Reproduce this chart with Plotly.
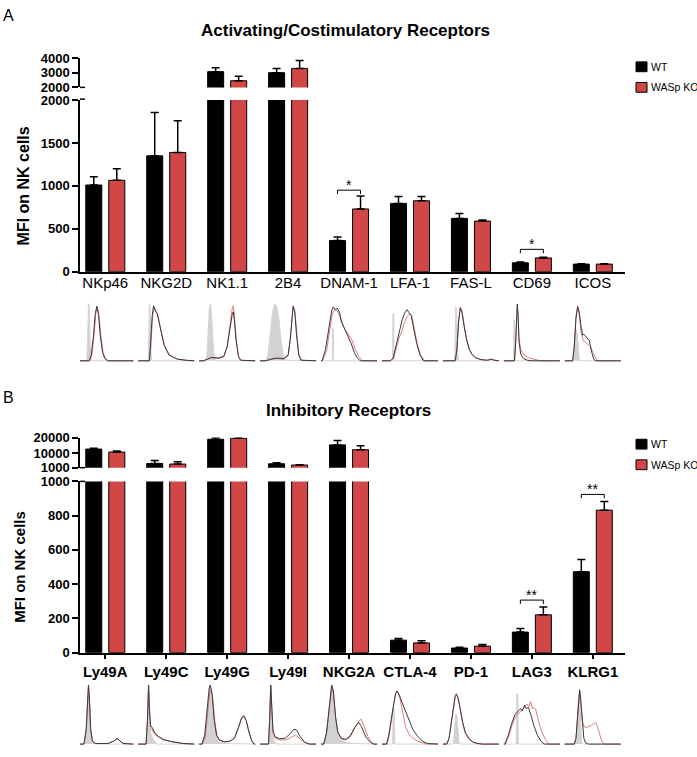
import plotly.graph_objects as go

W, H = 697, 757

# ---- panel A : activating / costimulatory receptors ----
cats_a = ["NKp46", "NKG2D", "NK1.1", "2B4", "DNAM-1", "LFA-1", "FAS-L", "CD69", "ICOS"]
wt_a = [1010, 1350, 3070, 3000, 362, 796, 621, 103, 88]
wt_a_err = [96, 505, 265, 290, 41, 80, 57, 11, 5]
ko_a = [1065, 1390, 2450, 3290, 731, 826, 590, 160, 88]
ko_a_err = [135, 370, 310, 530, 152, 50, 12, 8, 4]
sig_a = [("DNAM-1", 950, "*"), ("CD69", 260, "*")]

# ---- panel B : inhibitory receptors ----
cats_b = ["Ly49A", "Ly49C", "Ly49G", "Ly49I", "NKG2A", "CTLA-4", "PD-1", "LAG3", "KLRG1"]
wt_b = [12760, 3660, 18950, 3480, 15400, 73, 27, 120, 473]
wt_b_err = [550, 1850, 1050, 620, 2750, 9, 4, 21, 71]
ko_b = [10900, 3290, 19570, 2670, 12330, 57, 38, 221, 832]
ko_b_err = [600, 1400, 430, 230, 2470, 12, 10, 46, 50]
sig_b = [("LAG3", 307, "**"), ("KLRG1", 924, "**")]

ticks_a_low = [0, 500, 1000, 1500, 2000]
ticks_a_high = [2000, 3000, 4000]
ticks_b_low = [0, 200, 400, 600, 800, 1000]
ticks_b_high = [1000, 10000, 20000]

# flow histograms, (position, normalised count) pairs, one list per receptor
hist_a_iso = [
    [(0, 0), (0.17, 0), (0.185, 0.4), (0.2, 1.0), (0.215, 1.0), (0.23, 0.3), (0.25, 0), (1, 0)],
    [(0, 0), (0.18, 0), (0.19, 0.5), (0.2, 1.0), (0.215, 0.9), (0.23, 0.1), (0.25, 0), (1, 0)],
    [(0, 0), (0.13, 0), (0.15, 0.3), (0.18, 0.9), (0.2, 1.0), (0.22, 0.85), (0.25, 0.3), (0.27, 0.05), (0.3, 0), (1, 0)],
    [(0, 0), (0.1, 0), (0.14, 0.1), (0.18, 0.45), (0.22, 0.85), (0.26, 1.0), (0.3, 0.95), (0.34, 0.7), (0.38, 0.3), (0.42, 0.08), (0.46, 0.01), (1, 0)],
    [(0, 0), (0.2, 0), (0.205, 0.57), (0.22, 0.57), (0.225, 0), (1, 0)],
    [(0, 0), (0.19, 0), (0.195, 0.83), (0.21, 0.83), (0.215, 0), (1, 0)],
    [(0, 0), (0.21, 0), (0.22, 0.5), (0.23, 0.95), (0.245, 0.9), (0.26, 0.15), (0.28, 0), (1, 0)],
    [(0, 0), (0.175, 0), (0.18, 0.72), (0.19, 0.72), (0.195, 0), (1, 0)],
    [(0, 0), (0.16, 0), (0.18, 0.3), (0.2, 0.55), (0.22, 0.5), (0.24, 0.15), (0.26, 0), (1, 0)],
]
hist_a_wt = [
    [(0, 0), (0.21, 0), (0.25, 0.1), (0.29, 0.45), (0.32, 0.83), (0.35, 0.96), (0.38, 0.8), (0.41, 0.45), (0.45, 0.15), (0.49, 0.04), (0.54, 0), (1, 0)],
    [(0, 0), (0.2, 0), (0.22, 0.3), (0.25, 0.8), (0.275, 0.97), (0.3, 0.9), (0.34, 0.83), (0.4, 0.54), (0.46, 0.28), (0.55, 0.1), (0.7, 0.03), (0.85, 0.01), (1, 0)],
    [(0, 0), (0.08, 0), (0.15, 0.03), (0.22, 0.06), (0.35, 0.05), (0.44, 0.08), (0.5, 0.25), (0.55, 0.6), (0.59, 0.82), (0.61, 0.86), (0.63, 0.7), (0.66, 0.35), (0.7, 0.08), (0.74, 0.01), (1, 0)],
    [(0, 0), (0.1, 0), (0.2, 0.03), (0.3, 0.05), (0.42, 0.04), (0.5, 0.1), (0.54, 0.4), (0.57, 0.85), (0.59, 0.96), (0.62, 0.85), (0.65, 0.45), (0.69, 0.1), (0.73, 0.01), (1, 0)],
    [(0, 0), (0.02, 0), (0.08, 0.2), (0.13, 0.55), (0.19, 0.88), (0.22, 0.95), (0.26, 0.9), (0.29, 0.93), (0.33, 0.85), (0.36, 0.7), (0.43, 0.55), (0.49, 0.42), (0.54, 0.3), (0.6, 0.13), (0.65, 0.05), (0.7, 0), (1, 0)],
    [(0, 0), (0.15, 0), (0.2, 0.05), (0.25, 0.25), (0.3, 0.48), (0.36, 0.72), (0.41, 0.85), (0.45, 0.9), (0.48, 0.85), (0.52, 0.8), (0.56, 0.6), (0.62, 0.3), (0.68, 0.1), (0.74, 0), (1, 0)],
    [(0, 0), (0.22, 0), (0.25, 0.2), (0.28, 0.7), (0.31, 0.93), (0.34, 0.85), (0.38, 0.6), (0.42, 0.38), (0.47, 0.2), (0.52, 0.11), (0.57, 0.06), (0.68, 0.02), (0.8, 0.01), (0.86, 0.03), (0.92, 0.01), (1, 0)],
    [(0, 0), (0.19, 0), (0.21, 0.3), (0.23, 0.9), (0.24, 1.0), (0.255, 0.8), (0.27, 0.35), (0.3, 0.12), (0.35, 0.04), (0.42, 0.01), (0.5, 0), (1, 0)],
    [(0, 0), (0.14, 0), (0.17, 0.25), (0.2, 0.75), (0.23, 0.95), (0.26, 0.85), (0.29, 0.6), (0.32, 0.45), (0.34, 0.47), (0.36, 0.45), (0.4, 0.4), (0.44, 0.35), (0.48, 0.15), (0.52, 0.02), (0.56, 0), (1, 0)],
]
hist_a_ko = [
    [(0, 0), (0.22, 0), (0.26, 0.1), (0.3, 0.45), (0.33, 0.83), (0.36, 0.95), (0.39, 0.8), (0.42, 0.45), (0.46, 0.15), (0.5, 0.05), (0.56, 0), (1, 0)],
    [(0, 0), (0.2, 0), (0.225, 0.25), (0.255, 0.75), (0.28, 0.93), (0.31, 0.88), (0.35, 0.8), (0.41, 0.52), (0.47, 0.27), (0.56, 0.1), (0.7, 0.03), (0.85, 0.01), (1, 0)],
    [(0, 0), (0.08, 0), (0.15, 0.03), (0.22, 0.05), (0.35, 0.04), (0.44, 0.07), (0.5, 0.25), (0.55, 0.65), (0.59, 0.92), (0.61, 0.97), (0.63, 0.8), (0.66, 0.4), (0.7, 0.1), (0.74, 0.01), (1, 0)],
    [(0, 0), (0.1, 0), (0.2, 0.03), (0.3, 0.04), (0.42, 0.03), (0.5, 0.09), (0.54, 0.38), (0.57, 0.85), (0.59, 0.97), (0.62, 0.88), (0.65, 0.5), (0.69, 0.12), (0.74, 0.01), (1, 0)],
    [(0, 0), (0.03, 0), (0.1, 0.18), (0.15, 0.5), (0.2, 0.82), (0.24, 0.9), (0.29, 0.88), (0.35, 0.75), (0.4, 0.6), (0.45, 0.52), (0.5, 0.45), (0.56, 0.35), (0.61, 0.2), (0.67, 0.08), (0.74, 0), (1, 0)],
    [(0, 0), (0.16, 0), (0.21, 0.05), (0.26, 0.22), (0.31, 0.42), (0.35, 0.5), (0.4, 0.68), (0.45, 0.78), (0.5, 0.83), (0.53, 0.8), (0.57, 0.6), (0.63, 0.3), (0.69, 0.1), (0.76, 0), (1, 0)],
    [(0, 0), (0.22, 0), (0.25, 0.18), (0.28, 0.68), (0.31, 0.95), (0.34, 0.88), (0.38, 0.64), (0.42, 0.4), (0.47, 0.21), (0.52, 0.12), (0.57, 0.06), (0.68, 0.02), (0.8, 0.01), (0.86, 0.03), (0.92, 0.01), (1, 0)],
    [(0, 0), (0.19, 0), (0.21, 0.3), (0.23, 0.88), (0.24, 0.97), (0.255, 0.8), (0.27, 0.4), (0.3, 0.2), (0.36, 0.1), (0.45, 0.05), (0.55, 0.02), (0.66, 0), (1, 0)],
    [(0, 0), (0.14, 0), (0.17, 0.28), (0.2, 0.8), (0.23, 0.97), (0.26, 0.8), (0.29, 0.5), (0.33, 0.35), (0.375, 0.32), (0.42, 0.28), (0.46, 0.25), (0.5, 0.15), (0.54, 0.06), (0.58, 0), (1, 0)],
]
hist_b_iso = [
    [(0, 0), (0.12, 0), (0.16, 0.25), (0.185, 0.8), (0.2, 1.0), (0.215, 0.8), (0.24, 0.25), (0.27, 0.04), (0.32, 0), (1, 0)],
    [(0, 0), (0.14, 0), (0.165, 0.4), (0.185, 1.0), (0.2, 0.6), (0.22, 0.2), (0.26, 0.1), (0.3, 0.03), (0.35, 0), (1, 0)],
    [(0, 0), (0.05, 0), (0.1, 0.15), (0.14, 0.55), (0.18, 0.95), (0.2, 1.0), (0.23, 0.85), (0.27, 0.4), (0.31, 0.12), (0.36, 0.03), (0.5, 0.01), (1, 0)],
    [(0, 0), (0.15, 0), (0.17, 0.4), (0.19, 1.0), (0.21, 0.6), (0.23, 0.15), (0.26, 0.03), (0.3, 0), (1, 0)],
    [(0, 0), (0.05, 0), (0.1, 0.2), (0.15, 0.7), (0.19, 1.0), (0.22, 0.9), (0.26, 0.45), (0.3, 0.18), (0.35, 0.08), (0.45, 0.03), (0.6, 0.01), (1, 0)],
    [(0, 0), (0.19, 0), (0.2, 0.6), (0.22, 0.6), (0.23, 0), (1, 0)],
    [(0, 0), (0.19, 0), (0.21, 0.3), (0.23, 0.5), (0.25, 0.5), (0.27, 0.3), (0.29, 0), (1, 0)],
    [(0, 0), (0.22, 0), (0.23, 0.85), (0.25, 0.85), (0.26, 0), (1, 0)],
    [(0, 0), (0.19, 0), (0.22, 0.3), (0.24, 0.8), (0.26, 0.85), (0.28, 0.4), (0.3, 0.05), (0.32, 0), (1, 0)],
]
hist_b_wt = [
    [(0, 0), (0.12, 0), (0.16, 0.25), (0.185, 0.8), (0.2, 1.0), (0.215, 0.8), (0.24, 0.25), (0.27, 0.05), (0.32, 0.01), (0.55, 0.01), (0.65, 0.05), (0.71, 0.1), (0.76, 0.05), (0.82, 0.01), (1, 0)],
    [(0, 0), (0.14, 0), (0.165, 0.4), (0.185, 1.0), (0.2, 0.6), (0.22, 0.32), (0.25, 0.28), (0.3, 0.18), (0.36, 0.13), (0.45, 0.08), (0.6, 0.04), (0.8, 0.01), (1, 0)],
    [(0, 0), (0.05, 0), (0.1, 0.15), (0.14, 0.55), (0.18, 0.95), (0.2, 1.0), (0.23, 0.85), (0.27, 0.4), (0.31, 0.15), (0.36, 0.07), (0.45, 0.04), (0.55, 0.05), (0.63, 0.1), (0.7, 0.28), (0.76, 0.45), (0.8, 0.48), (0.84, 0.4), (0.89, 0.2), (0.94, 0.05), (0.98, 0), (1, 0)],
    [(0, 0), (0.15, 0), (0.17, 0.4), (0.19, 1.0), (0.21, 0.6), (0.23, 0.22), (0.27, 0.12), (0.35, 0.09), (0.45, 0.1), (0.53, 0.17), (0.6, 0.25), (0.65, 0.24), (0.72, 0.12), (0.8, 0.03), (0.88, 0), (1, 0)],
    [(0, 0), (0.05, 0), (0.1, 0.2), (0.15, 0.7), (0.19, 1.0), (0.22, 0.9), (0.26, 0.45), (0.3, 0.2), (0.36, 0.1), (0.44, 0.08), (0.52, 0.14), (0.6, 0.28), (0.67, 0.37), (0.72, 0.3), (0.8, 0.12), (0.88, 0.03), (0.94, 0), (1, 0)],
    [(0, 0), (0.08, 0), (0.12, 0.15), (0.16, 0.4), (0.2, 0.65), (0.24, 0.85), (0.27, 0.9), (0.31, 0.83), (0.36, 0.7), (0.42, 0.55), (0.48, 0.4), (0.55, 0.25), (0.63, 0.14), (0.72, 0.05), (0.81, 0.01), (0.9, 0), (1, 0)],
    [(0, 0), (0.07, 0), (0.11, 0.1), (0.15, 0.35), (0.19, 0.65), (0.22, 0.82), (0.24, 0.85), (0.27, 0.78), (0.31, 0.6), (0.35, 0.38), (0.4, 0.2), (0.46, 0.1), (0.53, 0.04), (0.61, 0.01), (0.7, 0), (1, 0)],
    [(0, 0), (0.02, 0), (0.08, 0.15), (0.14, 0.35), (0.2, 0.5), (0.26, 0.56), (0.3, 0.6), (0.33, 0.56), (0.37, 0.66), (0.4, 0.6), (0.44, 0.62), (0.48, 0.5), (0.54, 0.3), (0.6, 0.15), (0.66, 0.05), (0.72, 0), (1, 0)],
    [(0, 0), (0.17, 0), (0.2, 0.1), (0.23, 0.5), (0.25, 0.85), (0.265, 0.92), (0.28, 0.8), (0.31, 0.35), (0.34, 0.1), (0.37, 0.02), (0.42, 0), (1, 0)],
]
hist_b_ko = [
    [(0, 0), (0.12, 0), (0.16, 0.25), (0.185, 0.8), (0.2, 0.98), (0.215, 0.8), (0.24, 0.25), (0.27, 0.05), (0.32, 0.01), (0.55, 0.01), (0.65, 0.05), (0.71, 0.09), (0.76, 0.05), (0.82, 0.01), (1, 0)],
    [(0, 0), (0.14, 0), (0.165, 0.4), (0.185, 0.98), (0.2, 0.6), (0.22, 0.27), (0.25, 0.24), (0.3, 0.16), (0.36, 0.12), (0.45, 0.07), (0.6, 0.04), (0.8, 0.01), (1, 0)],
    [(0, 0), (0.06, 0), (0.11, 0.12), (0.15, 0.5), (0.19, 0.88), (0.215, 0.93), (0.24, 0.8), (0.28, 0.38), (0.32, 0.14), (0.37, 0.06), (0.45, 0.035), (0.55, 0.045), (0.63, 0.1), (0.7, 0.27), (0.76, 0.44), (0.8, 0.46), (0.84, 0.39), (0.89, 0.2), (0.94, 0.05), (0.98, 0), (1, 0)],
    [(0, 0), (0.15, 0), (0.17, 0.4), (0.19, 0.98), (0.21, 0.6), (0.23, 0.2), (0.27, 0.1), (0.35, 0.07), (0.45, 0.07), (0.53, 0.1), (0.6, 0.14), (0.65, 0.14), (0.72, 0.08), (0.8, 0.02), (0.88, 0), (1, 0)],
    [(0, 0), (0.05, 0), (0.1, 0.2), (0.15, 0.68), (0.19, 0.95), (0.22, 0.88), (0.26, 0.45), (0.3, 0.2), (0.36, 0.09), (0.44, 0.07), (0.52, 0.12), (0.6, 0.27), (0.68, 0.4), (0.72, 0.42), (0.77, 0.3), (0.84, 0.12), (0.9, 0.03), (0.95, 0), (1, 0)],
    [(0, 0), (0.09, 0), (0.13, 0.15), (0.17, 0.42), (0.21, 0.68), (0.25, 0.86), (0.28, 0.9), (0.32, 0.78), (0.36, 0.6), (0.42, 0.3), (0.48, 0.17), (0.54, 0.11), (0.63, 0.05), (0.72, 0.02), (0.8, 0), (1, 0)],
    [(0, 0), (0.07, 0), (0.11, 0.1), (0.15, 0.33), (0.19, 0.62), (0.22, 0.8), (0.245, 0.84), (0.275, 0.77), (0.31, 0.58), (0.35, 0.36), (0.4, 0.18), (0.46, 0.09), (0.53, 0.03), (0.61, 0.01), (0.7, 0), (1, 0)],
    [(0, 0), (0.03, 0), (0.09, 0.14), (0.15, 0.33), (0.21, 0.47), (0.27, 0.52), (0.32, 0.58), (0.37, 0.62), (0.41, 0.68), (0.45, 0.64), (0.48, 0.72), (0.51, 0.6), (0.54, 0.62), (0.57, 0.58), (0.62, 0.38), (0.68, 0.2), (0.74, 0.08), (0.8, 0), (1, 0)],
    [(0, 0), (0.17, 0), (0.2, 0.1), (0.23, 0.5), (0.25, 0.85), (0.265, 0.9), (0.28, 0.78), (0.31, 0.4), (0.34, 0.3), (0.38, 0.28), (0.43, 0.3), (0.48, 0.32), (0.52, 0.35), (0.55, 0.37), (0.58, 0.3), (0.62, 0.15), (0.66, 0.05), (0.7, 0), (1, 0)],
]

BLACK = "#000000"
RED = "#d14646"
FONT = "Liberation Sans, Arial, sans-serif"
BARGAP = 0.245
HW = 0.46   # half width of a histogram frame, in category units


def py(p):
    # pixel row -> paper y
    return 1 - p / H


def px(p):
    return p / W


fig = go.Figure()


def add_bars(xa, ya, cats, wt, wt_err, ko, ko_err, lo=None):
    idx = list(range(len(cats)))
    for vals, err, col in [(wt, wt_err, BLACK), (ko, ko_err, RED)]:
        # the upper (broken) segment only carries the bars that reach it
        if lo is not None:
            vals = [v if v > lo else None for v in vals]
        fig.add_trace(go.Bar(
            x=idx, y=vals, xaxis=xa, yaxis=ya,
            marker=dict(color=col, line=dict(color=BLACK, width=1)),
            error_y=dict(type="data", symmetric=False, array=err,
                         arrayminus=[0] * len(err), color=BLACK,
                         thickness=1.5, width=4),
            hoverinfo="skip"))


add_bars("x", "y", cats_a, wt_a, wt_a_err, ko_a, ko_a_err)
add_bars("x", "y2", cats_a, wt_a, wt_a_err, ko_a, ko_a_err, lo=ticks_a_high[0])
add_bars("x3", "y4", cats_b, wt_b, wt_b_err, ko_b, ko_b_err)
add_bars("x3", "y5", cats_b, wt_b, wt_b_err, ko_b, ko_b_err, lo=ticks_b_high[0])


def add_hists(xa, ya, iso, wt, ko):
    for i in range(len(iso)):
        for curve, lc, fill in [(iso[i], "#d4d4d4", "tozeroy"),
                                (ko[i], "#e27c7c", None),
                                (wt[i], "#3a3a3a", None)]:
            fig.add_trace(go.Scatter(
                x=[i + (u - 0.5) * 2 * HW for u, h in curve],
                y=[h for u, h in curve],
                xaxis=xa, yaxis=ya, mode="lines",
                line=dict(color=lc, width=1),
                fill=fill, fillcolor="#d2d2d2" if fill else None,
                hoverinfo="skip"))


add_hists("x2", "y3", hist_a_iso, hist_a_wt, hist_a_ko)
add_hists("x4", "y6", hist_b_iso, hist_b_wt, hist_b_ko)

XDOM = [px(80), px(624.5)]
XRANGE = [-0.415, 8.52]
tick_bold = dict(family=FONT, size=13, color=BLACK, weight="bold")
yax = dict(showline=True, linecolor=BLACK, linewidth=1.5, ticks="outside",
           ticklen=6, tickwidth=1.5, tickcolor=BLACK, showgrid=False,
           zeroline=False, tickfont=tick_bold, fixedrange=True)
hidden = dict(visible=False, fixedrange=True)

fig.update_layout(
    width=W, height=H,
    margin=dict(l=0, r=0, t=0, b=0),
    paper_bgcolor="white", plot_bgcolor="white",
    showlegend=False,
    barmode="group", bargap=BARGAP, bargroupgap=0.304,
    font=dict(family=FONT, color=BLACK),
    xaxis=dict(domain=XDOM, range=XRANGE, anchor="y", showline=True,
               linecolor=BLACK, linewidth=1.5, ticks="", showgrid=False,
               zeroline=False, tickvals=list(range(len(cats_a))),
               ticktext=cats_a, ticklabelstandoff=-3,
               tickfont=dict(family=FONT, size=15, color=BLACK),
               fixedrange=True),
    yaxis=dict(yax, domain=[py(270), py(95)], range=[0, 2000], anchor="x",
               tickvals=ticks_a_low, ticktext=[str(t) for t in ticks_a_low],
               title=dict(text="MFI on NK cells", standoff=7,
                          font=dict(family=FONT, size=16, weight="bold"))),
    yaxis2=dict(yax, domain=[py(82), py(52)], range=[2000, 4000], anchor="x",
                tickvals=ticks_a_high, ticktext=[str(t) for t in ticks_a_high]),
    xaxis2=dict(hidden, domain=XDOM, range=XRANGE, anchor="y3"),
    yaxis3=dict(hidden, domain=[py(362.7), py(301.3)], range=[-0.03, 1.03], anchor="x2"),
    xaxis3=dict(domain=XDOM, range=XRANGE, anchor="y4", showline=True,
                linecolor=BLACK, linewidth=1.5, ticks="outside", ticklen=5,
                tickwidth=1.5, tickcolor=BLACK, showgrid=False, zeroline=False,
                tickvals=list(range(len(cats_b))), ticktext=cats_b,
                tickfont=dict(family=FONT, size=15, color=BLACK, weight="bold"),
                fixedrange=True),
    yaxis4=dict(yax, domain=[py(658.7), py(484)], range=[0, 1000], anchor="x3",
                tickvals=ticks_b_low, ticktext=[str(t) for t in ticks_b_low],
                title=dict(text="MFI on NK cells", standoff=11,
                           font=dict(family=FONT, size=15, weight="bold"))),
    yaxis5=dict(yax, domain=[py(470), py(439.3)], range=[1000, 20000], anchor="x3",
                tickvals=ticks_b_high, ticktext=[str(t) for t in ticks_b_high]),
    xaxis4=dict(hidden, domain=XDOM, range=XRANGE, anchor="y6"),
    yaxis6=dict(hidden, domain=[py(753.8), py(689.9)], range=[-0.03, 1.03], anchor="x4"),
)

# significance brackets
off = (1 - BARGAP) / 4
for cats, sig, xr, yr, dy in [(cats_a, sig_a, "x", "y", 45), (cats_b, sig_b, "x3", "y4", 22)]:
    for name, level, stars in sig:
        i = cats.index(name)
        fig.add_shape(type="path", xref=xr, yref=yr,
                      path=f"M {i - off},{level - dy} L {i - off},{level} "
                           f"L {i + off},{level} L {i + off},{level - dy}",
                      line=dict(color=BLACK, width=1))
        fig.add_annotation(x=i, y=level, xref=xr, yref=yr, text=stars,
                           showarrow=False, yanchor="bottom", yshift=-5,
                           font=dict(family=FONT, size=14, color=BLACK))

# axis break stubs
for ypix in [82, 94, 470, 484]:
    fig.add_shape(type="line", xref="paper", yref="paper",
                  x0=px(80), x1=px(85), y0=py(ypix), y1=py(ypix),
                  line=dict(color=BLACK, width=1.5))

# panel letters and titles
fig.add_annotation(x=px(1), y=py(9), xref="paper", yref="paper", text="A",
                   showarrow=False, xanchor="left", yanchor="middle",
                   font=dict(family=FONT, size=16, color=BLACK))
fig.add_annotation(x=px(1), y=py(398), xref="paper", yref="paper", text="B",
                   showarrow=False, xanchor="left", yanchor="middle",
                   font=dict(family=FONT, size=16, color=BLACK))
fig.add_annotation(x=px(345), y=py(24), xref="paper", yref="paper",
                   text="Activating/Costimulatory Receptors", showarrow=False,
                   xanchor="center", yanchor="middle",
                   font=dict(family=FONT, size=17, color=BLACK, weight="bold"))
fig.add_annotation(x=px(348), y=py(412), xref="paper", yref="paper",
                   text="Inhibitory Receptors", showarrow=False,
                   xanchor="center", yanchor="middle",
                   font=dict(family=FONT, size=17, color=BLACK, weight="bold"))

# legends
for top in [56, 441]:
    for k, (lab, col) in enumerate([("WT", BLACK), ("WASp KO", RED)]):
        y0 = top + k * 21
        fig.add_shape(type="rect", xref="paper", yref="paper",
                      x0=px(636), x1=px(647), y0=py(y0 + 10), y1=py(y0),
                      fillcolor=col, line=dict(color=BLACK, width=1))
        fig.add_annotation(x=px(649), y=py(y0 + 5), xref="paper", yref="paper",
                           text=lab, showarrow=False, xanchor="left",
                           yanchor="middle",
                           font=dict(family=FONT, size=10.5, color=BLACK))

# the page body margin would push the figure off the window
fig.write_html("out.html", config={"displayModeBar": False},
               post_script="document.body.style.margin='0px';")
